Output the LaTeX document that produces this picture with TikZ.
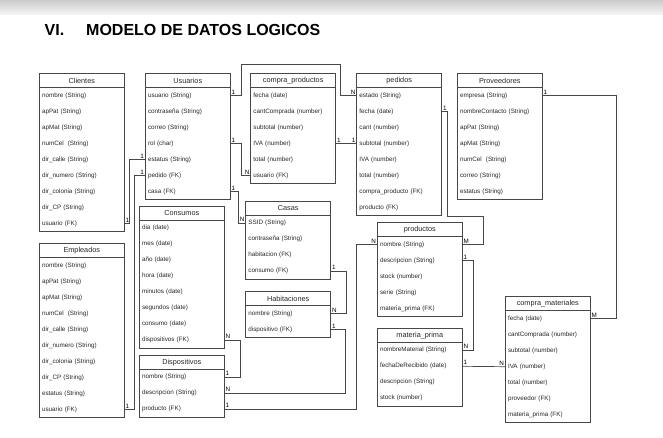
\documentclass[tikz,border=0pt]{standalone}
\usepackage{fontspec}
\setmainfont{Liberation Sans}
\usepackage{tikz}
\usepackage{xcolor}

\definecolor{linea}{rgb}{0.28,0.28,0.28}
\definecolor{texto}{rgb}{0.15,0.15,0.15}

% tabla: nombre, x, y (arriba), titulo, atributos
\newcommand{\entidad}[5]{%
  \node[cabeza] (#1) at (#2,#3) {#4};
  \foreach \a [count=\i] in {#5}{
    \node[fila] (#1\i) at (#2,#3+14+16*\i-16) {\a};
    \xdef\ultima{\i}
  }
  \draw[marco] (#1.north west) rectangle (#1\ultima.south east);
}

\begin{document}
\begin{tikzpicture}[x=1pt,y=-1pt,line width=0.7pt]
  \tikzstyle{cabeza} = [draw=linea, text=texto, anchor=north west, minimum width=85pt, minimum height=14pt, inner sep=0pt, outer sep=0pt, font=\fontsize{7.3}{8}\selectfont];
  \tikzstyle{fila} = [text=texto, anchor=north west, minimum height=16pt, text width=79.6pt, inner xsep=2.7pt, inner ysep=0pt, outer sep=0pt, align=left, font=\fontsize{6.3}{7}\selectfont];
  \tikzstyle{marco} = [draw=linea];
  \tikzstyle{rel} = [draw=linea];
  \tikzstyle{lbl} = [text=black, inner sep=1pt, font=\fontsize{6.3}{7}\selectfont];
  \tikzstyle{ini} = [lbl, pos=0, anchor=south west];
  \tikzstyle{fin} = [lbl, pos=1, anchor=south east];
  \tikzstyle{finr} = [lbl, pos=1, anchor=south west];

  \useasboundingbox (0,0) rectangle (663,438);
  \foreach \k in {0,...,14}{
    \pgfmathsetmacro{\tono}{40-2.2*\k}
    \fill[gray!\tono] (0,\k) rectangle (663,\k+1.05);
  }
  \node[anchor=base west, inner sep=0pt, font=\fontsize{16}{19}\selectfont\bfseries] (cabecera) at (44.3,36) {VI.\hspace{22pt}MODELO DE DATOS LOGICOS};

  \entidad{cli}{39.3}{73.7}{Clientes}{nombre (String), apPat (String), apMat (String), numCel~~(String), dir\_calle (String), dir\_numero (String), dir\_colonia (String), dir\_CP (String), usuario (FK)}
  \entidad{usu}{145.3}{73.7}{Usuarios}{usuario (String), contraseña (String), correo (String), rol (char), estatus (String), pedido (FK), casa (FK)}
  \entidad{cpr}{250.7}{73.7}{compra\_productos}{fecha (date), cantComprada (number), subtotal (number), IVA (number), total (number), usuario (FK)}
  \entidad{ped}{356.7}{73.7}{pedidos}{estado (String), fecha (date), cant (number), subtotal (number), IVA (number), total (number), compra\_producto (FK), producto (FK)}
  \entidad{pro}{457.3}{73.7}{Proveedores}{empresa (String), nombreContacto (String), apPat (String), apMat (String), numCel~~(String), correo (String), estatus (String)}
  \entidad{con}{139.3}{206}{Consumos}{dia (date), mes (date), año (date), hora (date), minutos (date), segundos (date), consumo (date), dispositivos (FK)}
  \entidad{cas}{245.7}{201.3}{Casas}{SSID (String), contraseña (String), habitacion (FK), consumo (FK)}
  \entidad{hab}{245.7}{291.7}{Habitaciones}{nombre (String), dispositivo (FK)}
  \entidad{dis}{139.3}{355.3}{Dispositivos}{nombre (String), descripcion (String), producto (FK)}
  \entidad{emp}{39.3}{243.7}{Empleados}{nombre (String), apPat (String), apMat (String), numCel~~(String), dir\_calle (String), dir\_numero (String), dir\_colonia (String), dir\_CP (String), estatus (String), usuario (FK)}
  \entidad{prd}{377.3}{222.7}{productos}{nombre (String), descripcion (String), stock (number), serie (String), materia\_prima (FK)}
  \entidad{mat}{377.3}{328.3}{materia\_prima}{nombreMaterial (String), fechaDeRecibido (date), descripcion (String), stock (number)}
  \entidad{cma}{505.3}{296.7}{compra\_materiales}{fecha (date), cantComprada (number), subtotal (number), IVA (number), total (number), proveedor (FK), materia\_prima (FK)}

  \draw[rel] (cli9.east) -- node[ini]{1} ++(4.7,0) |- node[fin]{1} (usu5.west);
  \draw[rel] (emp10.east) -- node[ini]{1} ++(10,0) |- node[fin]{1} (usu6.west);
  \draw[rel] (usu1.east) -- node[ini]{1} ++(11,0) -- ++(0,-31) -| ([xshift=-16pt]ped1.west) -- node[fin]{N} (ped1.west);
  \draw[rel] (usu4.east) -- node[ini]{1} ++(11,0) |- node[fin]{N} (cpr6.west);
  \draw[rel] (usu7.east) -- node[ini]{1} ++(8,0) |- node[fin]{N} (cas1.west);
  \draw[rel] (cpr4.east) -- node[ini]{1} node[fin]{1} (ped4.west);
  \draw[rel] (ped2.east) -- node[ini]{1} ++(5.5,0) |- ([xshift=21pt,yshift=28.5pt]prd1.east) |- node[finr]{M} (prd1.east);
  \draw[rel] (pro1.east) -- node[ini]{1} ++(73.7,0) |- node[finr]{M} (cma1.east);
  \draw[rel] (prd2.east) -- node[ini]{1} ++(11,0) |- node[finr]{N} (mat1.east);
  \draw[rel] (mat2.east) -- node[ini]{1} node[fin]{N} (cma4.west);
  \draw[rel] (cas4.east) -- node[ini]{1} ++(15.7,0) |- node[finr]{N} (hab1.east);
  \draw[rel] (hab2.east) -- node[ini]{1} ++(15,0) |- node[finr]{N} (dis2.east);
  \draw[rel] (con8.east) -- node[ini]{N} ++(16.4,0) |- node[finr]{1} (dis1.east);
  \draw[rel] (dis3.east) -- node[ini]{1} ++(132.4,0) |- node[fin]{N} (prd1.west);
\end{tikzpicture}
\end{document}
